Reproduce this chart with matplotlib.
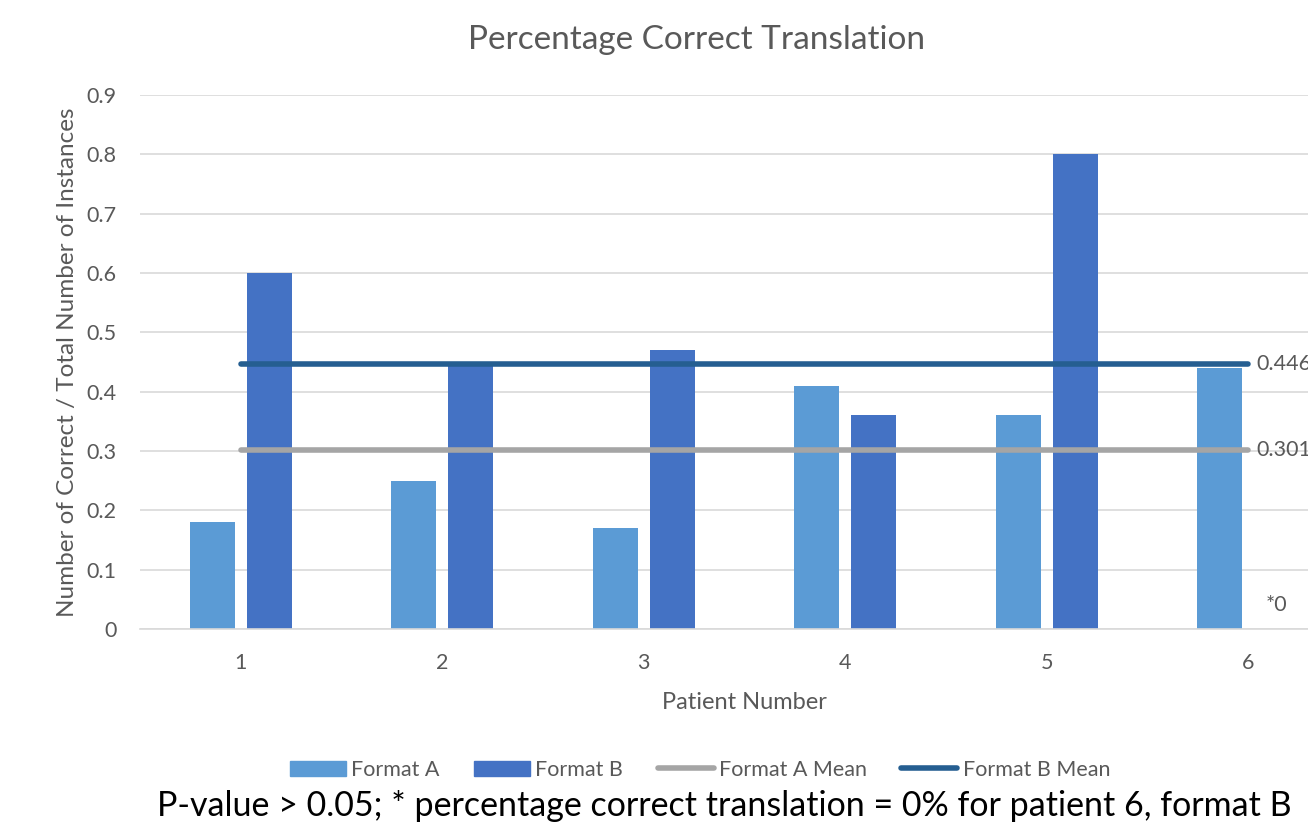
import matplotlib.pyplot as plt
import numpy as np
from matplotlib.lines import Line2D
from matplotlib.patches import Patch

patients = ['1', '2', '3', '4', '5', '6']
format_a = [0.18, 0.25, 0.17, 0.41, 0.36, 0.44]
format_b = [0.60, 0.45, 0.47, 0.36, 0.80, 0.0]
mean_a = 0.301
mean_b = 0.446
yticks = [0, 0.1, 0.2, 0.3, 0.4, 0.5, 0.6, 0.7, 0.8, 0.9]

plt.rcParams['font.family'] = ['Lato', 'DejaVu Sans']

c_a = '#5B9BD5'
c_b = '#4472C4'
c_ma = '#A5A5A5'
c_mb = '#255E91'
txt = '#595959'

fig = plt.figure(figsize=(13.08, 8.25), dpi=100)
ax = fig.add_axes([140 / 1308, 196 / 825, 1209 / 1308, 534 / 825])

x = np.arange(len(patients))
w = 0.223
off = 0.142
ax.bar(x - off, format_a, w, color=c_a, zorder=2)
ax.bar(x + off, format_b, w, color=c_b, zorder=2)

# mean lines run from the first to the last patient, labelled at the right end
ax.plot([x[0], x[-1]], [mean_a, mean_a], color=c_ma, lw=4, solid_capstyle='round', zorder=3)
ax.plot([x[0], x[-1]], [mean_b, mean_b], color=c_mb, lw=4, solid_capstyle='round', zorder=3)
ax.text(x[-1] + 0.04, mean_a, '0.301', color=txt, fontsize=15.5, va='center', ha='left')
ax.text(x[-1] + 0.04, mean_b, '0.446', color=txt, fontsize=15.5, va='center', ha='left')
ax.text(x[-1] + off, 0.04, '*0', color=txt, fontsize=15.5, va='center', ha='center')

ax.set_xlim(-0.5, 5.5)
ax.set_ylim(0, 0.9)
ax.set_yticks(yticks)
ax.set_yticklabels(['0' if v == 0 else f'{v:.1f}' for v in yticks])
ax.set_xticks(x)
ax.set_xticklabels(patients)
ax.tick_params(axis='both', length=0, colors=txt, labelsize=15.5)
ax.tick_params(axis='x', pad=17)
ax.tick_params(axis='y', pad=17)
ax.grid(axis='y', color='#D9D9D9', lw=1.2, zorder=0)
for s in ['top', 'right', 'left']:
    ax.spines[s].set_visible(False)
ax.spines['bottom'].set_color('#D9D9D9')
ax.spines['bottom'].set_linewidth(1.2)

ax.set_xlabel('Patient Number', color=txt, fontsize=17, labelpad=14)
ax.set_ylabel('Number of Correct / Total Number of Instances', color=txt, fontsize=17.5, labelpad=6)
fig.text(697 / 1308, 1 - 40 / 825, 'Percentage Correct Translation', color=txt, fontsize=24,
         ha='center', va='center')

handles = [Patch(color=c_a), Patch(color=c_b),
           Line2D([], [], color=c_ma, lw=4, solid_capstyle='round'),
           Line2D([], [], color=c_mb, lw=4, solid_capstyle='round')]
labels = ['Format A', 'Format B', 'Format A Mean', 'Format B Mean']
leg = fig.legend(handles, labels, loc='center', bbox_to_anchor=(700 / 1308, 1 - 770 / 825),
                 ncol=4, frameon=False, fontsize=15.5, handlelength=2.6, handleheight=0.75,
                 handletextpad=0.25, columnspacing=1.6)
for t in leg.get_texts():
    t.set_color(txt)

fig.text(724 / 1308, 1 - 806 / 825,
         'P-value > 0.05; * percentage correct translation = 0% for patient 6, format B',
         color='black', fontsize=24.5, ha='center', va='center')

fig.savefig('out.png', dpi=100)
